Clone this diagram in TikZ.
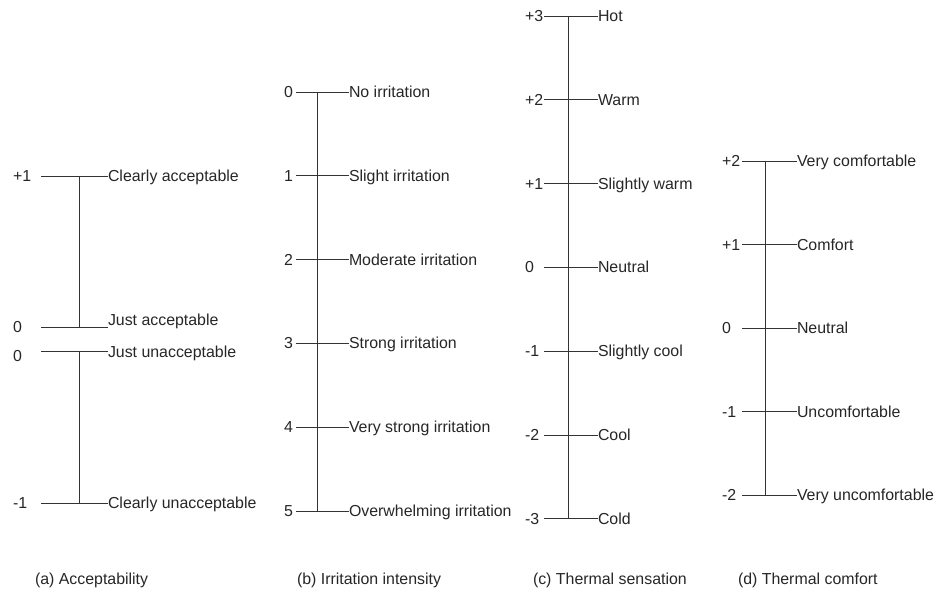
\documentclass[tikz,border=0pt]{standalone}
\usepackage{fontspec}
\setmainfont{Liberation Sans}
\begin{document}
\begin{tikzpicture}[x=1pt,y=-1pt,
  every node/.style={font=\fontsize{15.9}{18}\selectfont, inner sep=0pt, outer sep=0pt, text=black!85},
  lab/.style={anchor=base west},
  scaleline/.style={draw=black!80, line width=1pt}]
\useasboundingbox (0,0) rectangle (938,592);

% ---------- (a) Acceptability ----------
\coordinate (a-c0) at (79,176);
\coordinate (a-c1) at (79,327);
\coordinate (a-c2) at (79,351);
\coordinate (a-c3) at (79,503);
\coordinate (a-l0) at (41,176);
\coordinate (a-l1) at (41,327);
\coordinate (a-l2) at (41,351);
\coordinate (a-l3) at (41,503);
\coordinate (a-r0) at (108,176);
\coordinate (a-r1) at (108,327);
\coordinate (a-r2) at (108,351);
\coordinate (a-r3) at (108,503);
\node[lab] (a-n0) at (13,181.5) {+1};
\node[lab] (a-n1) at (13,332.5) {0};
\node[lab] (a-n2) at (13,361.5) {0};
\node[lab] (a-n3) at (13,508.5) {-1};
\node[lab] (a-t0) at (108,181.5) {Clearly acceptable};
\node[lab] (a-t1) at (108,325.5) {Just acceptable};
\node[lab] (a-t2) at (108,357.5) {Just unacceptable};
\node[lab] (a-t3) at (108,508.5) {Clearly unacceptable};
\foreach \i in {0,...,3} {\draw[scaleline] (a-l\i) -- (a-r\i);}
\draw[scaleline] (a-c0) -- (a-c1);
\draw[scaleline] (a-c2) -- (a-c3);
\node[lab] (a-cap) at (35,584.5) {(a) Acceptability};

% ---------- (b) Irritation intensity ----------
\foreach \i/\t in {0/No irritation,1/Slight irritation,2/Moderate irritation,3/Strong irritation,4/Very strong irritation,5/Overwhelming irritation} {
  \pgfmathsetmacro{\yy}{92+83.8*\i}
  \coordinate (b-l\i) at (296,\yy);
  \coordinate (b-c\i) at (317,\yy);
  \coordinate (b-r\i) at (349,\yy);
  \node[lab] (b-n\i) at (284,\yy+5.5) {\i};
  \node[lab] (b-t\i) at (349,\yy+5.5) {\t};
  \draw[scaleline] (b-l\i) -- (b-r\i);
}
\draw[scaleline] (b-c0) -- (b-c5);
\node[lab] (b-cap) at (297,584.5) {(b) Irritation intensity};

% ---------- (c) Thermal sensation ----------
\foreach \i/\v/\t in {0/+3/Hot,1/+2/Warm,2/+1/Slightly warm,3/0/Neutral,4/-1/Slightly cool,5/-2/Cool,6/-3/Cold} {
  \pgfmathsetmacro{\yy}{16+83.83*\i}
  \coordinate (c-l\i) at (544,\yy);
  \coordinate (c-c\i) at (568,\yy);
  \coordinate (c-r\i) at (598,\yy);
  \node[lab] (c-n\i) at (525,\yy+5.5) {\v};
  \node[lab] (c-t\i) at (598,\yy+5.5) {\t};
  \draw[scaleline] (c-l\i) -- (c-r\i);
}
\draw[scaleline] (c-c0) -- (c-c6);
\node[lab] (c-cap) at (533,584.5) {(c) Thermal sensation};

% ---------- (d) Thermal comfort ----------
\foreach \i/\v/\t in {0/+2/Very comfortable,1/+1/Comfort,2/0/Neutral,3/-1/Uncomfortable,4/-2/Very uncomfortable} {
  \pgfmathsetmacro{\yy}{161+83.5*\i}
  \coordinate (d-l\i) at (742,\yy);
  \coordinate (d-c\i) at (765,\yy);
  \coordinate (d-r\i) at (797,\yy);
  \node[lab] (d-n\i) at (722,\yy+5.5) {\v};
  \node[lab] (d-t\i) at (797,\yy+5.5) {\t};
  \draw[scaleline] (d-l\i) -- (d-r\i);
}
\draw[scaleline] (d-c0) -- (d-c4);
\node[lab] (d-cap) at (738,584.5) {(d) Thermal comfort};
\end{tikzpicture}
\end{document}
